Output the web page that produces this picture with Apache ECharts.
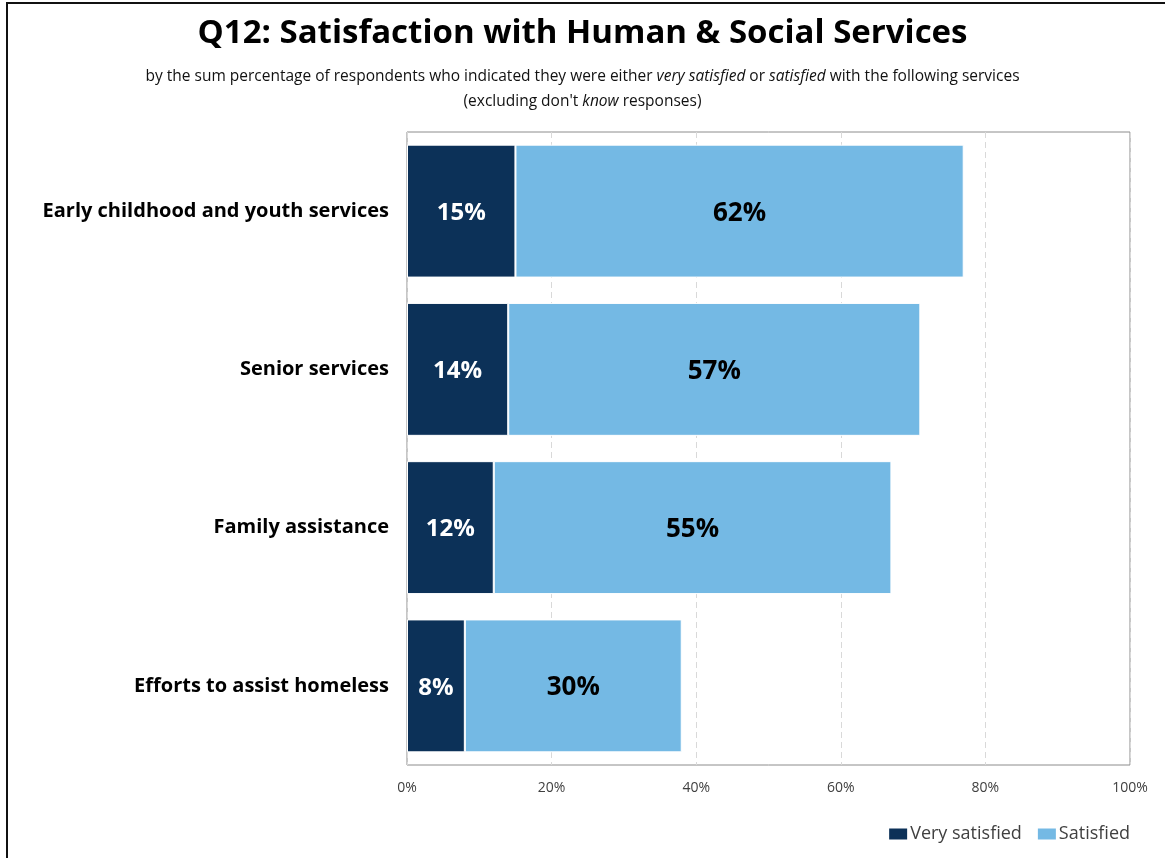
<!DOCTYPE html>
<html>
<head>
<meta charset="utf-8">
<script src="https://cdn.jsdelivr.net/npm/echarts@6/dist/echarts.min.js"></script>
<style>
  html, body { margin: 0; padding: 0; background: #fff; }
  #chart { width: 1165px; height: 858px; }
</style>
</head>
<body>
<div id="chart"></div>
<script>
// Services, listed top to bottom
const categories = [
  'Early childhood and youth services',
  'Senior services',
  'Family assistance',
  'Efforts to assist homeless'
];
// Percent of respondents
const verySatisfied = [15, 14, 12, 8];
const satisfied = [62, 57, 55, 30];
const xTicks = [0, 20, 40, 60, 80, 100];

const FONT = '"Open Sans", Lato, sans-serif';
const chart = echarts.init(document.getElementById('chart'), null, { renderer: 'canvas' });

chart.setOption({
  backgroundColor: '#ffffff',
  animation: false,
  title: {
    text: 'Q12: Satisfaction with Human & Social Services',
    left: 'center',
    top: 12,
    textStyle: { fontFamily: FONT, fontSize: 33, fontWeight: 'bold', color: '#000' },
    subtext: '{n|by the sum percentage of respondents who indicated they were either }{i|very satisfied}{n| or }{i|satisfied}{n| with the following services}\n{n|(excluding don\'t }{i|know}{n| responses)}',
    itemGap: 14,
    subtextStyle: {
      align: 'center',
      rich: {
        n: { fontFamily: FONT, fontSize: 15.5, color: '#111', lineHeight: 25 },
        i: { fontFamily: FONT, fontSize: 15.5, color: '#111', fontStyle: 'italic', lineHeight: 25 }
      }
    }
  },
  legend: {
    right: 30,
    bottom: 10,
    itemWidth: 20,
    itemHeight: 13,
    itemGap: 14,
    icon: 'rect',
    textStyle: { fontFamily: FONT, fontSize: 18, color: '#404040', padding: [0, 0, 0, -3] },
    data: ['Very satisfied', 'Satisfied']
  },
  grid: { left: 407, right: 35, top: 132, bottom: 93, show: true, borderColor: '#8c8c8c', borderWidth: 1 },
  xAxis: {
    type: 'value',
    min: xTicks[0],
    max: xTicks[xTicks.length - 1],
    interval: xTicks[1] - xTicks[0],
    axisLine: { show: false },
    axisTick: { show: false },
    axisLabel: {
      formatter: v => v + '%',
      fontFamily: FONT, fontSize: 14, color: '#404040', margin: 16
    },
    splitLine: { show: true, lineStyle: { color: '#d9d9d9', type: [6, 4], width: 1 } }
  },
  yAxis: {
    type: 'category',
    inverse: true,
    data: categories,
    axisLine: { show: false },
    axisTick: { show: false },
    axisLabel: { fontFamily: FONT, fontSize: 20, fontWeight: 'bold', color: '#000', margin: 18, padding: [5, 0, 0, 0] }
  },
  series: [
    {
      name: 'Very satisfied',
      type: 'bar',
      stack: 'total',
      barCategoryGap: '16%',
      data: verySatisfied,
      itemStyle: { color: '#0c3158', borderColor: '#ffffff', borderWidth: 1 },
      label: {
        show: true,
        position: 'inside',
        offset: [0, 2],
        formatter: p => p.value + '%',
        fontFamily: FONT, fontSize: 24, fontWeight: 'bold', color: '#ffffff'
      }
    },
    {
      name: 'Satisfied',
      type: 'bar',
      stack: 'total',
      barCategoryGap: '16%',
      data: satisfied,
      itemStyle: { color: '#74b9e4', borderColor: '#ffffff', borderWidth: 1 },
      label: {
        show: true,
        position: 'inside',
        offset: [0, 2],
        formatter: p => p.value + '%',
        fontFamily: FONT, fontSize: 26, fontWeight: 'bold', color: '#000000'
      }
    }
  ],
  graphic: [
    {
      type: 'rect',
      silent: true,
      shape: { x: 7, y: 3, width: 1200, height: 900 },
      style: { fill: 'none', stroke: '#111', lineWidth: 2 }
    }
  ]
});
</script>
</body>
</html>
